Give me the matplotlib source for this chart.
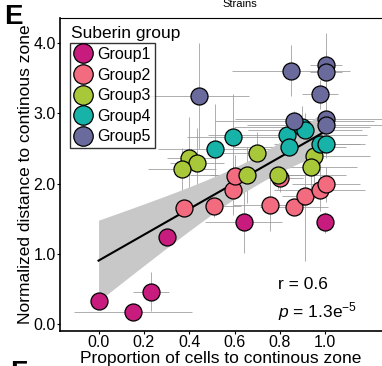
import numpy as np
import matplotlib
matplotlib.use("Agg")
import matplotlib.pyplot as plt
from matplotlib.lines import Line2D

plt.rcParams['font.family'] = ['Liberation Sans', 'DejaVu Sans']
plt.rcParams['mathtext.fontset'] = 'custom'
plt.rcParams['mathtext.rm'] = 'Liberation Sans'
plt.rcParams['mathtext.it'] = 'Liberation Sans:italic'

# data: x, y, x error, y error per group
g1_x = [0.00, 0.15, 0.23, 0.30, 0.64, 1.00]
g1_y = [0.33, 0.17, 0.46, 1.24, 1.46, 1.45]
g1_xe = [0.00, 0.26, 0.08, 0.055, 0.17, 0.00]
g1_ye = [0.00, 0.00, 0.28, 0.08, 0.45, 0.15]

g2_x = [0.377, 0.51, 0.592, 0.603, 0.754, 0.80, 0.86, 0.909, 0.975, 1.003]
g2_y = [1.65, 1.68, 1.91, 2.11, 1.69, 2.08, 1.66, 1.82, 1.91, 1.99]
g2_xe = [0.00, 0.12, 0.06, 0.05, 0.16, 0.10, 0.15, 0.10, 0.20, 0.15]
g2_ye = [0.12, 0.15, 0.35, 0.30, 0.37, 0.20, 0.10, 0.92, 0.30, 0.25]

g3_x = [0.40, 0.434, 0.367, 0.698, 0.654, 0.79, 0.948, 0.938]
g3_y = [2.37, 2.29, 2.21, 2.43, 2.12, 2.12, 2.39, 2.23]
g3_xe = [0.10, 0.12, 0.15, 0.20, 0.25, 0.30, 0.25, 0.20]
g3_ye = [0.58, 0.50, 0.30, 0.30, 0.40, 0.20, 0.40, 0.35]

g4_x = [0.514, 0.592, 0.833, 0.842, 0.897, 0.91, 0.975, 1.003]
g4_y = [2.49, 2.67, 2.69, 2.52, 2.81, 2.76, 2.57, 2.56]
g4_xe = [0.25, 0.20, 0.35, 0.25, 0.30, 0.25, 0.20, 0.15]
g4_ye = [0.65, 0.60, 0.20, 0.30, 0.30, 0.25, 0.30, 0.20]

g5_x = [0.442, 0.85, 1.003, 1.003, 0.975, 0.864, 1.003, 1.003]
g5_y = [3.25, 3.61, 3.69, 3.59, 3.27, 2.89, 2.92, 2.83]
g5_xe = [0.22, 0.26, 0.07, 0.07, 0.08, 0.35, 0.40, 0.35]
g5_ye = [0.76, 0.36, 0.46, 0.30, 0.20, 0.15, 0.30, 0.20]

groups = ['Group1', 'Group2', 'Group3', 'Group4', 'Group5']
colors = ['#C71C7E', '#F26B7F', '#A8C83A', '#17B3A8', '#6A6A9C']
xs = [g1_x, g2_x, g3_x, g4_x, g5_x]
ys = [g1_y, g2_y, g3_y, g4_y, g5_y]
xes = [g1_xe, g2_xe, g3_xe, g4_xe, g5_xe]
yes = [g1_ye, g2_ye, g3_ye, g4_ye, g5_ye]

r_text = 'r = 0.6'
p_text = r'$\it{p}$ = 1.3e$^{-5}$'

fig = plt.figure(figsize=(3.82, 3.66), dpi=100)
ax = fig.add_axes([60/382, 35/366, 1 - 60/382, 313/366])

# error bars first
for x, y, xe, ye in zip(xs, ys, xes, yes):
    ax.errorbar(x, y, xerr=xe, yerr=ye, fmt='none', ecolor='#9a9a9a',
                elinewidth=0.7, capsize=0, alpha=0.8, zorder=1)

# regression line + 95% CI from all points
allx = np.concatenate([np.array(v) for v in xs])
ally = np.concatenate([np.array(v) for v in ys])
b, a = np.polyfit(allx, ally, 1)
n = len(allx)
resid = ally - (a + b * allx)
s = np.sqrt(np.sum(resid**2) / (n - 2))
xx = np.linspace(allx.min(), allx.max(), 100)
se = s * np.sqrt(1/n + (xx - allx.mean())**2 / np.sum((allx - allx.mean())**2))
yy = a + b * xx
ax.fill_between(xx, yy - 2.02*se, yy + 2.02*se, color='#c8c8c8', lw=0, zorder=2)
ax.plot(xx, yy, color='black', lw=1.5, zorder=3)

for x, y, c in zip(xs, ys, colors):
    ax.scatter(x, y, s=150, color=c, edgecolor='black', linewidth=0.9, zorder=4)

ax.set_xlim(-0.17, 1.25)
ax.set_ylim(-0.1, 4.36)
ax.set_xticks([0, 0.2, 0.4, 0.6, 0.8, 1.0])
ax.set_xticklabels(['0.0', '0.2', '0.4', '0.6', '0.8', '1.0'])
ax.set_yticks([0, 1, 2, 3, 4])
ax.set_yticklabels(['0.0', '1.0', '2.0', '3.0', '4.0'])
ax.tick_params(labelsize=11.5, length=2, width=0.8, pad=1)
ax.spines['right'].set_visible(False)
ax.spines['left'].set_linewidth(1.2)
ax.spines['bottom'].set_linewidth(1.2)
ax.spines['top'].set_linewidth(0.8)
ax.set_xlabel('Proportion of cells to continous zone', fontsize=12.5, labelpad=0.5)
ax.set_ylabel('Normalized distance to continous zone', fontsize=12.5, labelpad=0)

ax.text(0.79, 0.5, r_text, fontsize=12.5)
ax.text(0.79, 0.1, p_text, fontsize=12.5)

handles = [Line2D([], [], marker='o', ls='none', markersize=14, markerfacecolor=c,
                  markeredgecolor='black', markeredgewidth=0.9) for c in colors]
leg = ax.legend(handles, groups, loc='upper left', bbox_to_anchor=(0.03, 0.92),
                fontsize=11.5, frameon=True, fancybox=False, edgecolor='black',
                handletextpad=0.3, labelspacing=0.35, borderpad=0.25, handlelength=1.2,
                borderaxespad=0)
leg.get_frame().set_linewidth(1.0)
ax.text(0.033, 0.935, 'Suberin group', transform=ax.transAxes, fontsize=12.5)

fig.text(4/382, 1 - 24/366, 'E', fontsize=20, fontweight='bold')
fig.text(240/382, 1 - 7/366, 'Strains', fontsize=8, ha='center')
fig.text(10/382, 1 - 380/366, 'F', fontsize=20, fontweight='bold')

fig.savefig('out.png', dpi=100)
